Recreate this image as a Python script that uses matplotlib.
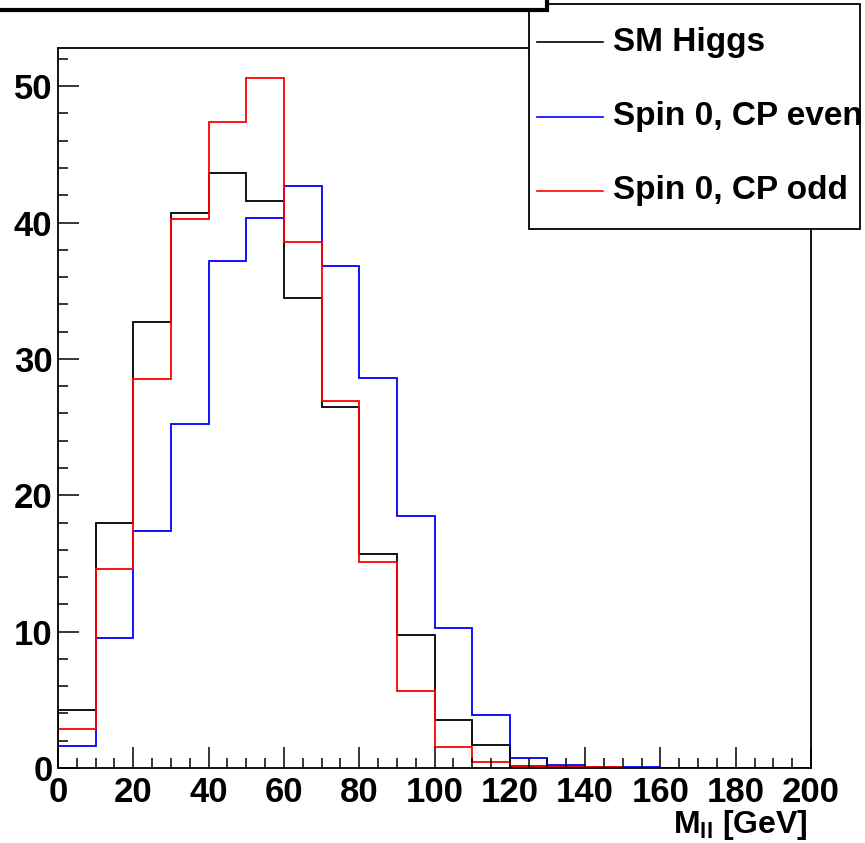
import numpy as np
import matplotlib
matplotlib.use('Agg')
import matplotlib.pyplot as plt
from matplotlib.patches import Rectangle
from matplotlib.lines import Line2D

# M_ll histograms, 20 bins of 10 GeV from 0 to 200
bin_edges = np.arange(0, 201, 10)
sm_higgs = [4.25, 17.95, 32.7, 40.7, 43.6, 41.55, 34.45, 26.5, 15.7, 9.78,
            3.55, 1.69, 0.17, 0.05, 0.03, 0.02, 0.01, 0.01, 0.0, 0.0]
cp_even = [1.6, 9.5, 17.4, 25.2, 37.15, 40.3, 42.7, 36.8, 28.6, 18.47,
           10.25, 3.86, 0.71, 0.2, 0.1, 0.05, 0.03, 0.02, 0.02, 0.01]
cp_odd = [2.85, 14.6, 28.5, 40.25, 47.4, 50.6, 38.6, 26.9, 15.1, 5.65,
          1.56, 0.46, 0.15, 0.05, 0.04, 0.03, 0.03, 0.02, 0.02, 0.02]
labels = ['SM Higgs', 'Spin 0, CP even', 'Spin 0, CP odd']
colors = ['black', 'blue', 'red']

plt.rcParams['font.family'] = ['Liberation Sans', 'DejaVu Sans']
plt.rcParams['font.weight'] = 'bold'
plt.rcParams['mathtext.fontset'] = 'custom'
plt.rcParams['mathtext.bf'] = 'Liberation Sans:bold'
plt.rcParams['mathtext.rm'] = 'Liberation Sans:bold'

W, H = 865, 843
fig = plt.figure(figsize=(W / 100, H / 100), dpi=100)


def fx(px):
    return px / W


def fy(py):
    return 1 - py / H


ax = fig.add_axes([fx(58), fy(768), fx(811) - fx(58), fy(48) - fy(768)])
for vals, col in zip([sm_higgs, cp_even, cp_odd], colors):
    ax.stairs(vals, bin_edges, color=col, lw=1.3)

ax.set_xlim(0, 200)
ax.set_ylim(0, 52.8)
ax.set_xticks(np.arange(0, 201, 20))
ax.set_xticks(np.arange(0, 201, 5), minor=True)
ax.set_yticks(np.arange(0, 51, 10))
ax.set_yticks(np.arange(0, 53, 2), minor=True)
ax.tick_params(which='both', direction='in', top=False, right=False,
               width=1.1, labelsize=25)
ax.tick_params(which='major', length=15)
ax.tick_params(which='minor', length=7.5)
ax.tick_params(axis='x', pad=6)
ax.tick_params(axis='y', pad=4)
for s in ax.spines.values():
    s.set_linewidth(1.3)

# axis title placed just under the right-hand tick labels, as in ROOT
fig.text(fx(808), fy(842), r'$\mathbf{M_{ll}}$ [GeV]', fontsize=23,
         fontweight='bold', ha='right', va='bottom')

# legend box (ROOT TLegend style)
fig.patches.append(Rectangle((fx(529), fy(229)), fx(860) - fx(529), fy(4) - fy(229),
                             transform=fig.transFigure, facecolor='white',
                             edgecolor='black', lw=1.3, zorder=5))
for i, (lab, col) in enumerate(zip(labels, colors)):
    yy = fy(42 + 74.5 * i)
    fig.lines.append(Line2D([fx(537), fx(603)], [yy, yy], transform=fig.transFigure,
                            color=col, lw=1.2, zorder=6))
    fig.text(fx(613), yy, lab, fontsize=24, fontweight='bold', va='center',
             ha='left', zorder=6)

# title box, mostly cut off at the top of the canvas
fig.patches.append(Rectangle((fx(-10), fy(10)), fx(540) + 0.02, 0.05,
                             transform=fig.transFigure, facecolor='white',
                             edgecolor='black', lw=3, zorder=7))

fig.savefig('out.png', dpi=100)
